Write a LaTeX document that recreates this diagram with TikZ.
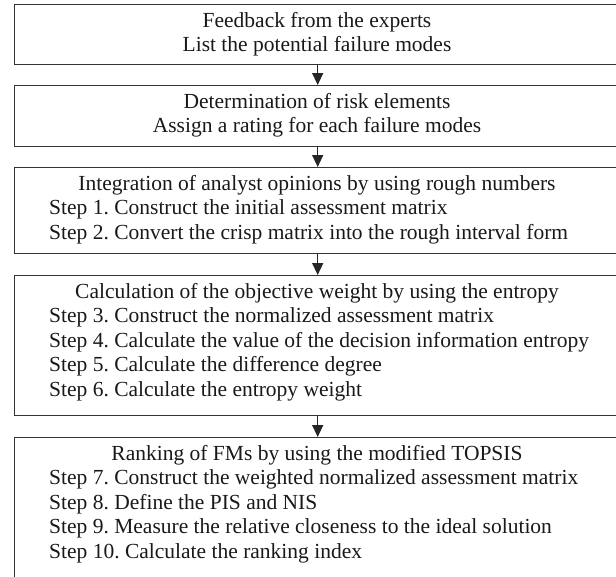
\documentclass[tikz,border=0pt]{standalone}
\usepackage{fontspec}
\setmainfont{Liberation Serif}
\usetikzlibrary{arrows.meta}
\frenchspacing
\begin{document}
\begin{tikzpicture}[x=1pt,y=-1pt,
  box/.style={draw=black!80,line width=1.4pt,rectangle,inner sep=0pt,anchor=north west,minimum width=606pt},
  ttl/.style={anchor=base,inner sep=0pt,font=\fontsize{21.5}{25}\selectfont,text=black!90},
  stp/.style={anchor=base west,inner sep=0pt,font=\fontsize{21.5}{25}\selectfont,text=black!90},
  arr/.style={draw=black!85,line width=1.5pt,-{Triangle[length=12pt,width=11pt]}}]
\useasboundingbox (0,0) rectangle (616,576);
% boxes
\node[box,minimum height=60pt] (b1) at (14,4) {};
\node[box,minimum height=61pt] (b2) at (14,85) {};
\node[box,minimum height=86pt] (b3) at (14,167) {};
\node[box,minimum height=140pt] (b4) at (14,275) {};
\node[box,minimum height=160pt] (b5) at (14,437) {};
% arrows
\draw[arr] (b1.south) -- (b2.north);
\draw[arr] (b2.south) -- (b3.north);
\draw[arr] (b3.south) -- (b4.north);
\draw[arr] (b4.south) -- (b5.north);
% box 1
\node[ttl] (t1a) at (317,27) {Feedback from the experts};
\node[ttl] (t1b) at (317,51) {List the potential failure modes};
% box 2
\node[ttl] (t2a) at (317,108) {Determination of risk elements};
\node[ttl] (t2b) at (317,132) {Assign a rating for each failure modes};
% box 3
\node[ttl] (t3a) at (317,190) {Integration of analyst opinions by using rough numbers};
\node[stp] (t3b) at (49,214.5) {Step 1. Construct the initial assessment matrix};
\node[stp] (t3c) at (49,239) {Step 2. Convert the crisp matrix into the rough interval form};
% box 4
\node[ttl] (t4a) at (317,298) {Calculation of the objective weight by using the entropy};
\node[stp] (t4b) at (49,322.5) {Step 3. Construct the normalized assessment matrix};
\node[stp] (t4c) at (49,347) {Step 4. Calculate the value of the decision information entropy};
\node[stp] (t4d) at (49,371.5) {Step 5. Calculate the difference degree};
\node[stp] (t4e) at (49,396) {Step 6. Calculate the entropy weight};
% box 5
\node[ttl] (t5a) at (317,460) {Ranking of FMs by using the modified TOPSIS};
\node[stp] (t5b) at (49,484.5) {Step 7. Construct the weighted normalized assessment matrix};
\node[stp] (t5c) at (49,509) {Step 8. Define the PIS and NIS};
\node[stp] (t5d) at (49,533.5) {Step 9. Measure the relative closeness to the ideal solution};
\node[stp] (t5e) at (49,558) {Step 10. Calculate the ranking index};
\end{tikzpicture}
\end{document}
